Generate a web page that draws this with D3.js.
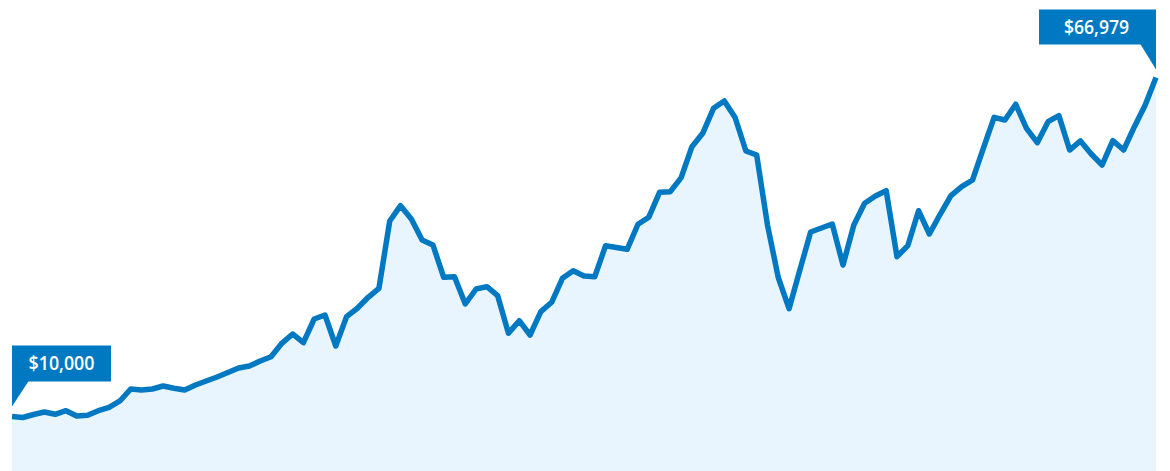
<!DOCTYPE html>
<html>
<head>
<meta charset="utf-8">
<script src="https://cdn.jsdelivr.net/npm/d3@7/dist/d3.min.js"></script>
<style>
  html, body { margin: 0; padding: 0; background: #ffffff; }
  svg { display: block; }
</style>
</head>
<body>
<svg id="chart" width="1170" height="471"></svg>
<script>
// Growth of $10,000
const periods = d3.range(107);
const values = [
  10000, 9830, 10340, 10760, 10370, 10980, 10080, 10200, 10980, 11550,
  12610, 14620, 14450, 14620, 15130, 14740, 14450, 15300, 15970, 16640,
  17400, 18150, 18490, 19330, 20050, 22300, 23870, 22410, 26390, 27060,
  21850, 26780, 28190, 30040, 31550, 42860, 45430, 43200, 39670, 38830,
  33400, 33500, 28910, 31430, 31820, 30310, 23990, 26100, 23700, 27620,
  29200, 33230, 34510, 33620, 33500, 38710, 38410, 38100, 42310, 43480,
  47680, 47790, 50140, 55350, 57600, 61800, 63030, 60260, 54630, 53950,
  42190, 33360, 28120, 34620, 41010, 41680, 42360, 35470, 42190, 45840,
  47060, 47950, 36860, 38710, 44590, 40680, 43990, 47110, 48630, 49750,
  55080, 60290, 59840, 62480, 58440, 56020, 59550, 60560, 54790, 56310,
  54120, 52270, 56360, 54790, 58710, 62360, 66979
];
const startLabel = "$10,000";
const endLabel = "$66,979";

const data = periods.map((p, i) => ({ p, v: values[i] }));

const svg = d3.select("#chart");
const x = d3.scaleLinear().domain([0, periods.length - 1]).range([12, 1156]);
const y = d3.scaleLinear().domain([0, 66979]).range([476, 77.5]);

const area = d3.area()
  .x(d => x(d.p))
  .y0(y(0))
  .y1(d => y(d.v));
const line = d3.line()
  .x(d => x(d.p))
  .y(d => y(d.v));

svg.append("path")
  .datum(data)
  .attr("d", area)
  .attr("fill", "#e9f5fe");

svg.append("path")
  .datum(data)
  .attr("d", line)
  .attr("fill", "none")
  .attr("stroke", "#0079c2")
  .attr("stroke-width", 5.5)
  .attr("stroke-linejoin", "round");

const blue = "#0079c2";

// Start label (pointer on left edge)
{
  const px = x(0), tipY = y(values[0]) - 10;
  const bw = 99, bh = 36, bottom = tipY - 25, top = bottom - bh;
  const g = svg.append("g");
  g.append("rect").attr("x", px).attr("y", top).attr("width", bw).attr("height", bh).attr("fill", blue);
  g.append("path").attr("d", `M${px},${bottom - 1}L${px + 17},${bottom - 1}L${px},${tipY}Z`).attr("fill", blue);
  g.append("text").attr("x", px + bw / 2).attr("y", top + 24.5)
    .attr("text-anchor", "middle").attr("fill", "#ffffff")
    .attr("font-family", "'Open Sans', Roboto, sans-serif").attr("font-weight", 600)
    .attr("font-size", 19.5).attr("textLength", 66).attr("lengthAdjust", "spacingAndGlyphs")
    .text(startLabel);
}

// End label (pointer on right edge)
{
  const last = values.length - 1;
  const px = x(last), tipY = y(values[last]) - 8;
  const bw = 117, bh = 35, bottom = tipY - 25, top = bottom - bh;
  const g = svg.append("g");
  g.append("rect").attr("x", px - bw).attr("y", top).attr("width", bw).attr("height", bh).attr("fill", blue);
  g.append("path").attr("d", `M${px - 16},${bottom - 1}L${px},${bottom - 1}L${px},${tipY}Z`).attr("fill", blue);
  g.append("text").attr("x", px - bw / 2 - 1).attr("y", top + 24)
    .attr("text-anchor", "middle").attr("fill", "#ffffff")
    .attr("font-family", "'Open Sans', Roboto, sans-serif").attr("font-weight", 600)
    .attr("font-size", 19.5).attr("textLength", 65).attr("lengthAdjust", "spacingAndGlyphs")
    .text(endLabel);
}
</script>
</body>
</html>
